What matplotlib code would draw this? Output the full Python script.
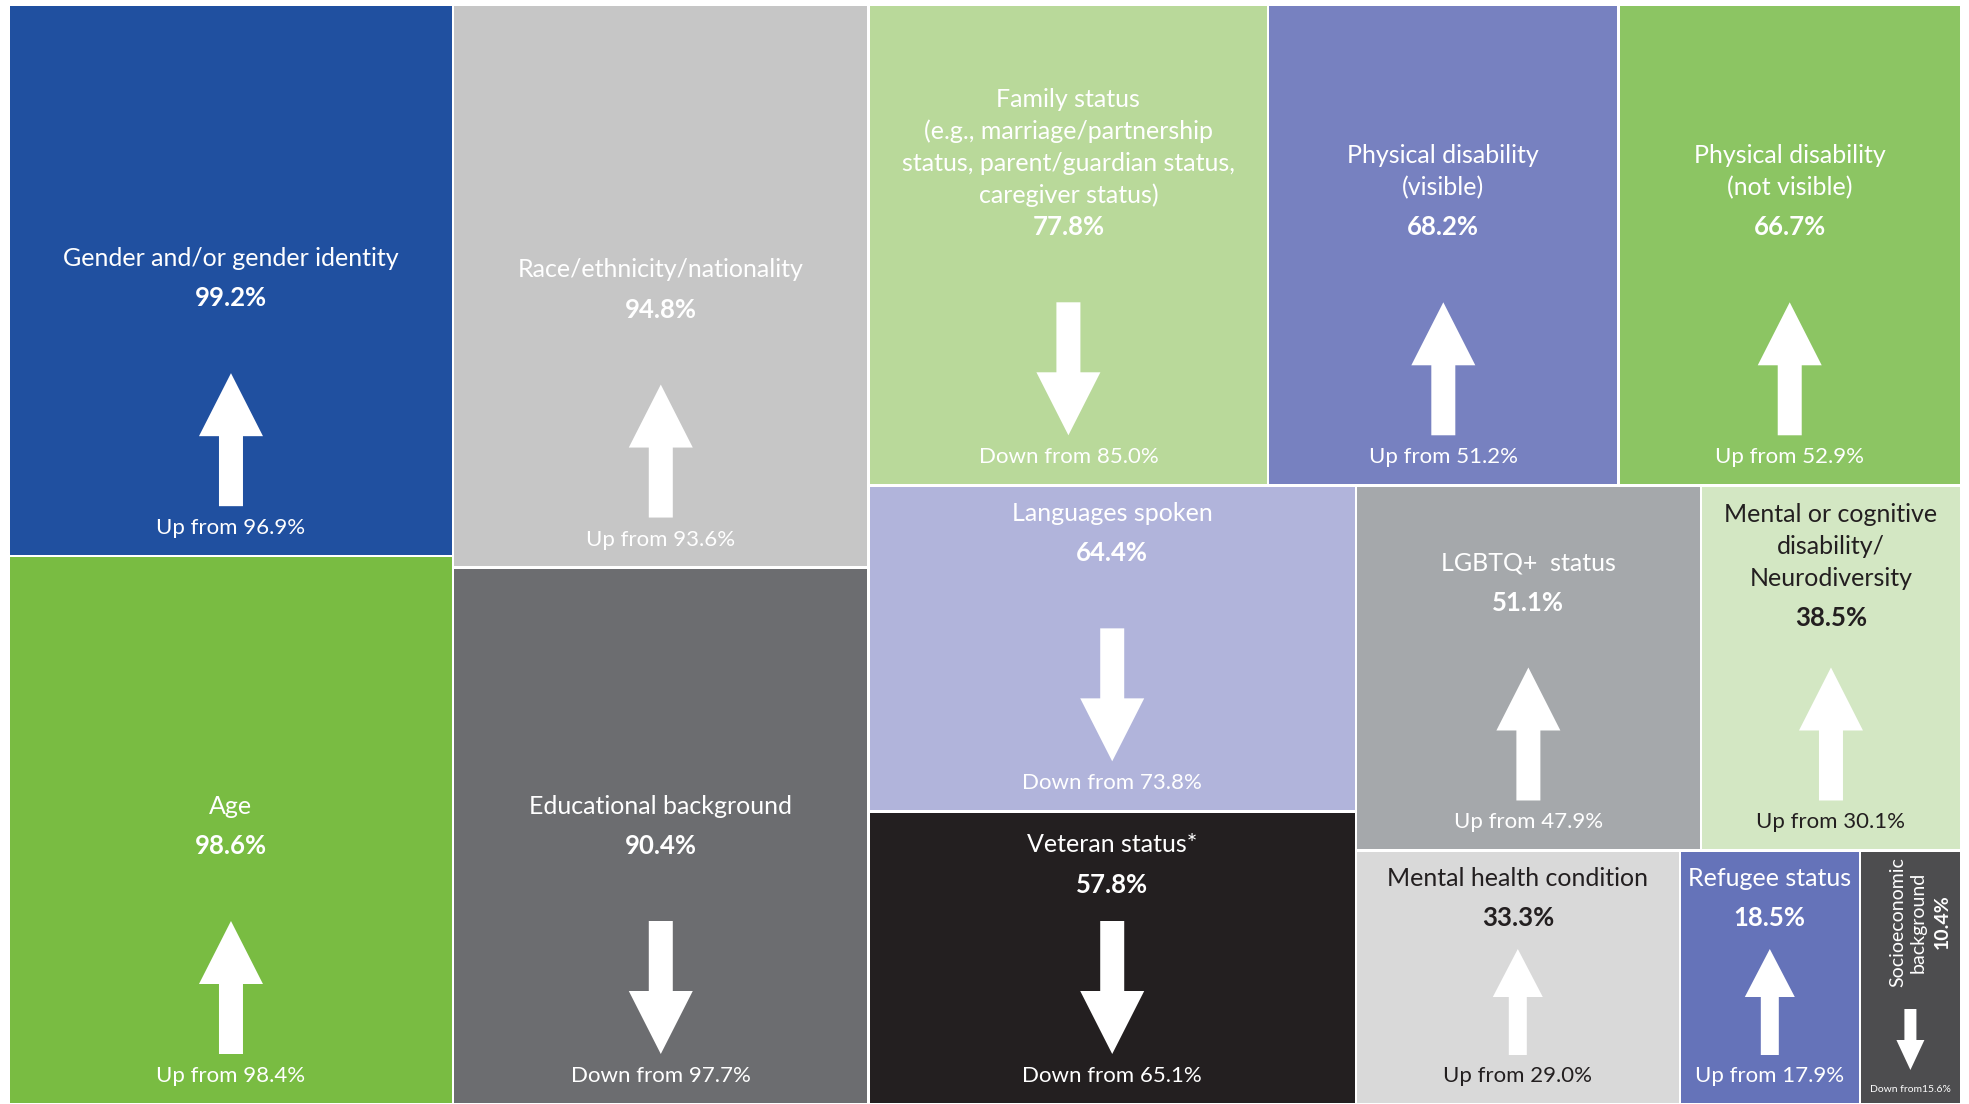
import matplotlib
matplotlib.use('Agg')
import matplotlib.pyplot as plt
from matplotlib.patches import Rectangle, Polygon

# data
titles = [
    'Gender and/or gender identity',
    'Age',
    'Race/ethnicity/nationality',
    'Educational background',
    'Family status\n(e.g., marriage/partnership\nstatus, parent/guardian status,\ncaregiver status)',
    'Physical disability\n(visible)',
    'Physical disability\n(not visible)',
    'Languages spoken',
    'Veteran status*',
    'LGBTQ+  status',
    'Mental or cognitive\ndisability/\nNeurodiversity',
    'Mental health condition',
    'Refugee status',
    'Socioeconomic\nbackground',
]
values = [99.2, 98.6, 94.8, 90.4, 77.8, 68.2, 66.7, 64.4, 57.8, 51.1, 38.5, 33.3, 18.5, 10.4]
previous = [96.9, 98.4, 93.6, 97.7, 85.0, 51.2, 52.9, 73.8, 65.1, 47.9, 30.1, 29.0, 17.9, 15.6]

fills = ['#2050A0', '#79BC42', '#C6C6C6', '#6C6D70', '#B9D99A', '#7781C0', '#8CC563',
         '#B1B4DB', '#231F20', '#A5A8AB', '#D3E7C3', '#D9D9D9', '#6573B9', '#4D4D4F']
dark = '#231F20'
text_cols = ['white'] * 14
text_cols[10] = dark
text_cols[11] = dark

# how the tiles are nested: 'h' = side by side, 'v' = stacked
tree = ('h', [('v', [0, 1]),
              ('v', [2, 3]),
              ('v', [('h', [4, 5, 6]),
                     ('h', [('v', [7, 8]),
                            ('v', [('h', [9, 10]), ('h', [11, 12, 13])])])])])


def total(node):
    if isinstance(node, int):
        return values[node]
    return sum(total(c) for c in node[1])


def layout(node, x, y, w, h, out):
    if isinstance(node, int):
        out[node] = (x, y, w, h)
        return
    kind, kids = node
    s = total(node)
    pos = 0
    for k in kids:
        frac = total(k) / s
        if kind == 'h':
            layout(k, x + pos * w, y, w * frac, h, out)
        else:
            layout(k, x, y + pos * h, w, h * frac, out)
        pos += frac


rects = {}
layout(tree, 9, 5, 1952, 1099, rects)

plt.rcParams['font.family'] = ['Lato', 'DejaVu Sans']
fig = plt.figure(figsize=(19.69, 11.04), dpi=100)
ax = fig.add_axes([0, 0, 1, 1])
ax.set_xlim(0, 1969)
ax.set_ylim(1104, 0)
ax.axis('off')


def arrow(xc, ybot, length, sw, hw, hl, up):
    ytop = ybot - length
    if up:
        pts = [(xc - sw, ybot), (xc + sw, ybot), (xc + sw, ytop + hl), (xc + hw, ytop + hl),
               (xc, ytop), (xc - hw, ytop + hl), (xc - sw, ytop + hl)]
    else:
        pts = [(xc - sw, ytop), (xc + sw, ytop), (xc + sw, ybot - hl), (xc + hw, ybot - hl),
               (xc, ybot), (xc - hw, ybot - hl), (xc - sw, ybot - hl)]
    ax.add_patch(Polygon(pts, closed=True, facecolor='white', edgecolor='none'))


gap_override = {8: 36, 9: 64, 10: 49}
gap = 1.3
for i in range(len(values)):
    x, y, w, h = rects[i]
    ax.add_patch(Rectangle((x + gap, y + gap), w - 2 * gap, h - 2 * gap,
                           facecolor=fills[i], edgecolor='none'))
    xc = x + w / 2
    b = y + h
    up = values[i] > previous[i]
    word = 'Up from ' if up else 'Down from '
    col = text_cols[i]
    if w < 150:
        # narrow tile: rotated labels
        ax.text(xc, b - 15, 'Down from' + '%.1f%%' % previous[i], ha='center', va='center',
                fontsize=7.5, color=col)
        arrow(xc, b - 34, 61, 6, 14, 30, up)
        for j, line in enumerate(titles[i].split('\n')):
            ax.text(xc - 13 + 21 * j, b - 182, line, ha='center', va='center', rotation=90,
                    fontsize=14, color=col)
        ax.text(xc + 32, b - 182, '%.1f%%' % values[i], ha='center', va='center', rotation=90,
                fontsize=14, color=col, fontweight='bold')
        continue
    ax.text(xc, b - 28, word + '%.1f%%' % previous[i], ha='center', va='center',
            fontsize=16, color=col)
    if h < 270:
        arrow(xc, b - 49, 106, 9, 25, 48, up)
        atop = b - 49 - 106
        g = 31
    else:
        arrow(xc, b - 50, 133, 12, 32, 63, up)
        atop = b - 50 - 133
        g = gap_override.get(i, 75)
    yv = atop - g
    ax.text(xc, yv, '%.1f%%' % values[i], ha='center', va='center',
            fontsize=18.5, color=col, fontweight='bold')
    lines = titles[i].split('\n')
    ylast = yv - (32 if len(lines) > 3 else 40)
    for j, line in enumerate(reversed(lines)):
        ax.text(xc, ylast - 32 * j, line, ha='center', va='center',
                fontsize=18, color=col)

fig.savefig('out.png', dpi=100, facecolor='white')
